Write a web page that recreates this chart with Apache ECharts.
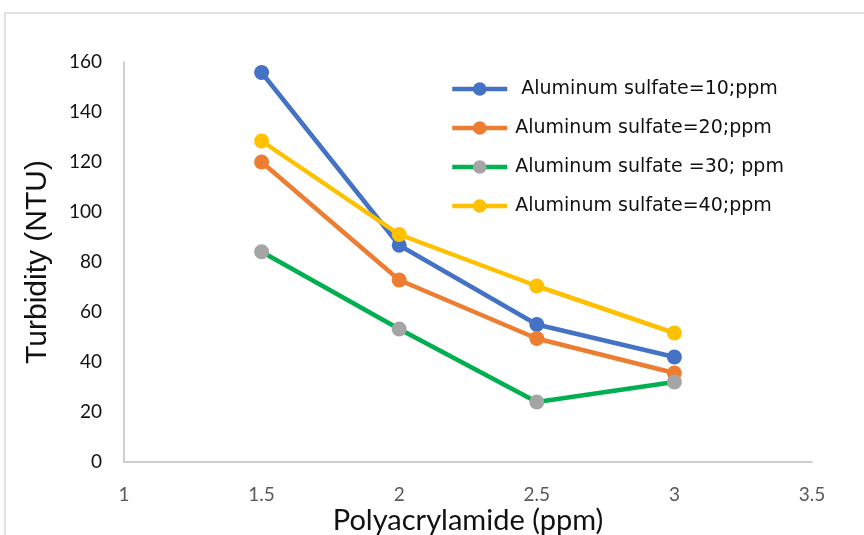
<!DOCTYPE html>
<html>
<head>
<meta charset="utf-8">
<script src="https://cdn.jsdelivr.net/npm/echarts@6/dist/echarts.min.js"></script>
<style>
  html, body { margin: 0; padding: 0; background: #fff; }
  #chart { width: 864px; height: 535px; }
</style>
</head>
<body>
<div id="chart"></div>
<script>
// Polyacrylamide dose (ppm) on the x axis
const doses = [1.5, 2, 2.5, 3];

// Residual turbidity (NTU) for each aluminum sulfate dose
const turbidity10 = [155.8, 86.7, 55.0, 42.0];
const turbidity20 = [120.0, 72.8, 49.4, 35.6];
const turbidity30 = [84.1, 53.2, 24.0, 32.0];
const turbidity40 = [128.4, 91.0, 70.4, 51.6];

const seriesNames = [
  ' Aluminum sulfate=10;ppm',
  'Aluminum sulfate=20;ppm',
  'Aluminum sulfate =30; ppm',
  'Aluminum sulfate=40;ppm'
];

const lineColors = ['#4472c4', '#ed7d31', '#00b050', '#ffc000'];
const dotColors = ['#4472c4', '#ed7d31', '#a5a5a5', '#ffc000'];
const values = [turbidity10, turbidity20, turbidity30, turbidity40];

const axisFont = 'Lato, "Open Sans", sans-serif';

const chart = echarts.init(document.getElementById('chart'));

chart.setOption({
  animation: false,
  backgroundColor: '#ffffff',
  graphic: [{
    type: 'rect',
    shape: { x: 5, y: 13, width: 900, height: 600 },
    style: { fill: 'none', stroke: '#d9d9d9', lineWidth: 1.5 },
    silent: true
  }],
  grid: {
    left: 124, right: 52, top: 62, bottom: 73,
    containLabel: false,
    outerBoundsMode: 'none'
  },
  legend: {
    orient: 'vertical',
    left: 445,
    top: 74,
    itemWidth: 55,
    itemHeight: 17,
    itemGap: 19,
    textStyle: {
      fontFamily: '"DejaVu Sans", "Liberation Sans", sans-serif',
      fontSize: 19,
      lineHeight: 20,
      color: '#111',
      padding: [0, 0, 0, 3]
    },
    data: seriesNames.map((n, i) => ({
      name: n,
      itemStyle: { color: dotColors[i] },
      lineStyle: { color: lineColors[i], width: 4.5 }
    }))
  },
  xAxis: {
    type: 'value',
    min: 1,
    max: 3.5,
    interval: 0.5,
    name: 'Polyacrylamide (ppm)',
    nameLocation: 'middle',
    nameGap: 44,
    nameMoveOverlap: false,
    nameTextStyle: { fontFamily: axisFont, fontSize: 29, color: '#111', lineHeight: 30 },
    axisLine: { show: true, lineStyle: { color: '#bfbfbf', width: 1.5 } },
    axisTick: { show: false },
    splitLine: { show: false },
    axisLabel: { fontFamily: axisFont, fontSize: 19, color: '#595959', margin: 23 }
  },
  yAxis: {
    type: 'value',
    min: 0,
    max: 160,
    interval: 20,
    name: 'Turbidity (NTU)',
    nameLocation: 'middle',
    nameGap: 71,
    nameMoveOverlap: false,
    nameTextStyle: { fontFamily: '"Liberation Sans", Arial, sans-serif', fontSize: 30, color: '#111' },
    axisLine: { show: true, lineStyle: { color: '#bfbfbf', width: 1.5 } },
    axisTick: { show: false },
    splitLine: { show: false },
    axisLabel: { fontFamily: axisFont, fontSize: 19, color: '#111', margin: 22 }
  },
  series: values.map((v, i) => ({
    name: seriesNames[i],
    type: 'line',
    data: doses.map((d, k) => [d, v[k]]),
    symbol: 'circle',
    symbolSize: 15,
    lineStyle: { color: lineColors[i], width: 4.5 },
    itemStyle: { color: dotColors[i] },
    z: 2 + i
  }))
});
</script>
</body>
</html>
